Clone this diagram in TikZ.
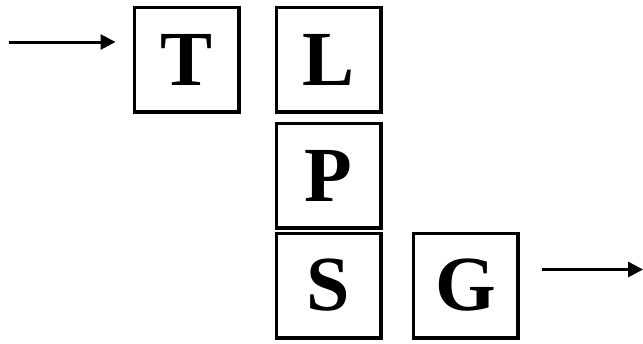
\documentclass[tikz,border=0pt]{standalone}
\usepackage{fontspec}
\setmainfont{Liberation Serif}
\usetikzlibrary{positioning,arrows.meta}

\tikzset{
  letterbox/.style={draw, line width=3.3pt, minimum size=104.7pt, inner sep=0pt,
    font=\fontsize{78}{80}\selectfont\bfseries},
  flow/.style={line width=3pt, -{Triangle[length=15pt,width=15pt]}}
}

\begin{document}
\begin{tikzpicture}[x=1pt, y=-1pt]
  \useasboundingbox (0,0) rectangle (643,343);

  % -- Top row --
  \node[letterbox] (T) at (186.5, 59.5) {T};
  \node[letterbox, right=34pt of T] (L) {L};

  % -- Column under L --
  \node[letterbox, below=8pt of L] (P) {P};
  \node[letterbox, below=2pt of P] (S) {S};
  \node[letterbox, right=29pt of S] (G) {G};

  % -- Input arrow --
  \coordinate (inA) at (9, 42);
  \coordinate (inB) at ([xshift=-17pt]T.west |- inA);
  \draw[flow] (inA) -- (inB);

  % -- Output arrow --
  \coordinate (outA) at ([xshift=22pt, yshift=16pt]G.east);
  \coordinate (outB) at (643, 0 |- outA);
  \draw[flow] (outA) -- (outB);

\end{tikzpicture}
\end{document}
